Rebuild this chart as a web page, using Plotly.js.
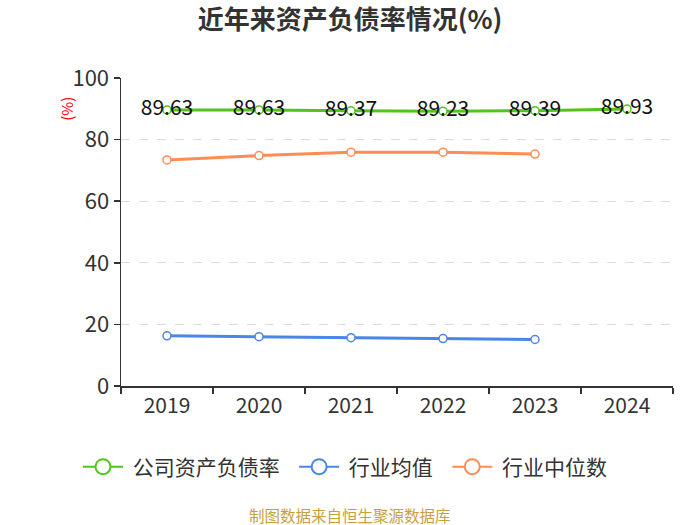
<!DOCTYPE html>
<html>
<head>
<meta charset="utf-8">
<script src="https://cdn.plot.ly/plotly-3.0.1.min.js"></script>
<style>html,body{margin:0;padding:0;background:#fff;}#chart{width:700px;height:525px;}</style>
</head>
<body>
<div id="chart"></div>
<script>
const years = ['2019', '2020', '2021', '2022', '2023', '2024'];
const companyRatio = [89.63, 89.63, 89.37, 89.23, 89.39, 89.93];
const industryMean = [16.3, 16.0, 15.7, 15.4, 15.1];
const industryMedian = [73.4, 74.8, 75.9, 75.9, 75.3];
const companyLabels = companyRatio.map(v => v.toFixed(2));
const seriesNames = ['公司资产负债率', '行业均值', '行业中位数'];
const seriesColors = ['#52c41a', '#4a86e8', '#ff8c55'];

const FONT = '"Noto Sans CJK SC", "Noto Sans", sans-serif';
const NB = '\u00a0';

function lineTrace(i, x, y, extra) {
  return Object.assign({
    name: seriesNames[i], x: x, y: y, type: 'scatter', mode: 'lines+markers',
    line: {color: seriesColors[i], width: 3},
    marker: {symbol: 'circle', size: 8, color: '#fff', line: {color: seriesColors[i], width: 1.5}},
    showlegend: false, hoverinfo: 'skip', cliponaxis: false
  }, extra || {});
}

function legendTrace(i) {
  return {
    name: NB + seriesNames[i] + NB + NB, x: [null], y: [null], type: 'scatter', mode: 'lines+markers',
    line: {color: seriesColors[i], width: 2},
    marker: {symbol: 'circle', size: 15, color: '#fff', line: {color: seriesColors[i], width: 2}},
    showlegend: true, hoverinfo: 'skip'
  };
}

const traces = [
  lineTrace(0, years, companyRatio, {
    mode: 'lines+markers+text', text: companyLabels, textposition: 'middle center',
    textfont: {size: 21, color: '#111', family: FONT}
  }),
  lineTrace(1, years.slice(0, 5), industryMean),
  lineTrace(2, years.slice(0, 5), industryMedian),
  legendTrace(0), legendTrace(1), legendTrace(2)
];

const layout = {
  width: 700, height: 525,
  margin: {l: 121, r: 27, t: 78, b: 139},
  paper_bgcolor: '#fff', plot_bgcolor: '#fff',
  font: {family: FONT, color: '#333'},
  title: {text: '<b>近年来资产负债率情况(%)</b>', x: 0.5, xanchor: 'center', y: 0.962, yanchor: 'middle',
          font: {size: 26, color: '#333', family: FONT}},
  showlegend: true,
  legend: {orientation: 'h', xref: 'container', yref: 'container', x: 0.5, xanchor: 'center',
           y: 1 - 467 / 525, yanchor: 'middle',
           itemwidth: 40, font: {size: 21, color: '#333', family: FONT}, traceorder: 'normal', itemclick: false},
  xaxis: {
    type: 'category', categoryorder: 'array', categoryarray: years, range: [-0.5, 5.5],
    showline: true, linecolor: '#333', linewidth: 1.5,
    ticks: 'outside', tickson: 'boundaries', ticklen: 6, tickcolor: '#333', tickwidth: 1.5,
    showgrid: false, zeroline: false,
    tickfont: {size: 21, color: '#333', family: FONT}
  },
  yaxis: {
    range: [0, 100], dtick: 20, tick0: 0,
    showline: true, linecolor: '#333', linewidth: 1.5,
    ticks: 'outside', ticklen: 6, tickcolor: '#333', tickwidth: 1.5,
    showgrid: true, gridcolor: '#dcdcdc', griddash: 'dash', gridwidth: 1,
    zeroline: false,
    tickfont: {size: 22, color: '#333', family: FONT}
  },
  annotations: [
    {text: '(%)', xref: 'paper', yref: 'paper', x: -0.098, y: 0.9, xanchor: 'center', yanchor: 'middle',
     textangle: -90, showarrow: false, font: {size: 15, color: '#ff0000', family: FONT}},
    {text: '制图数据来自恒生聚源数据库', xref: 'paper', yref: 'paper', x: 0.415, y: -0.42,
     xanchor: 'center', yanchor: 'middle', showarrow: false,
     font: {size: 15.5, color: '#c9a040', family: FONT}}
  ]
};

Plotly.newPlot('chart', traces, layout, {staticPlot: true, displayModeBar: false});
</script>
</body>
</html>
